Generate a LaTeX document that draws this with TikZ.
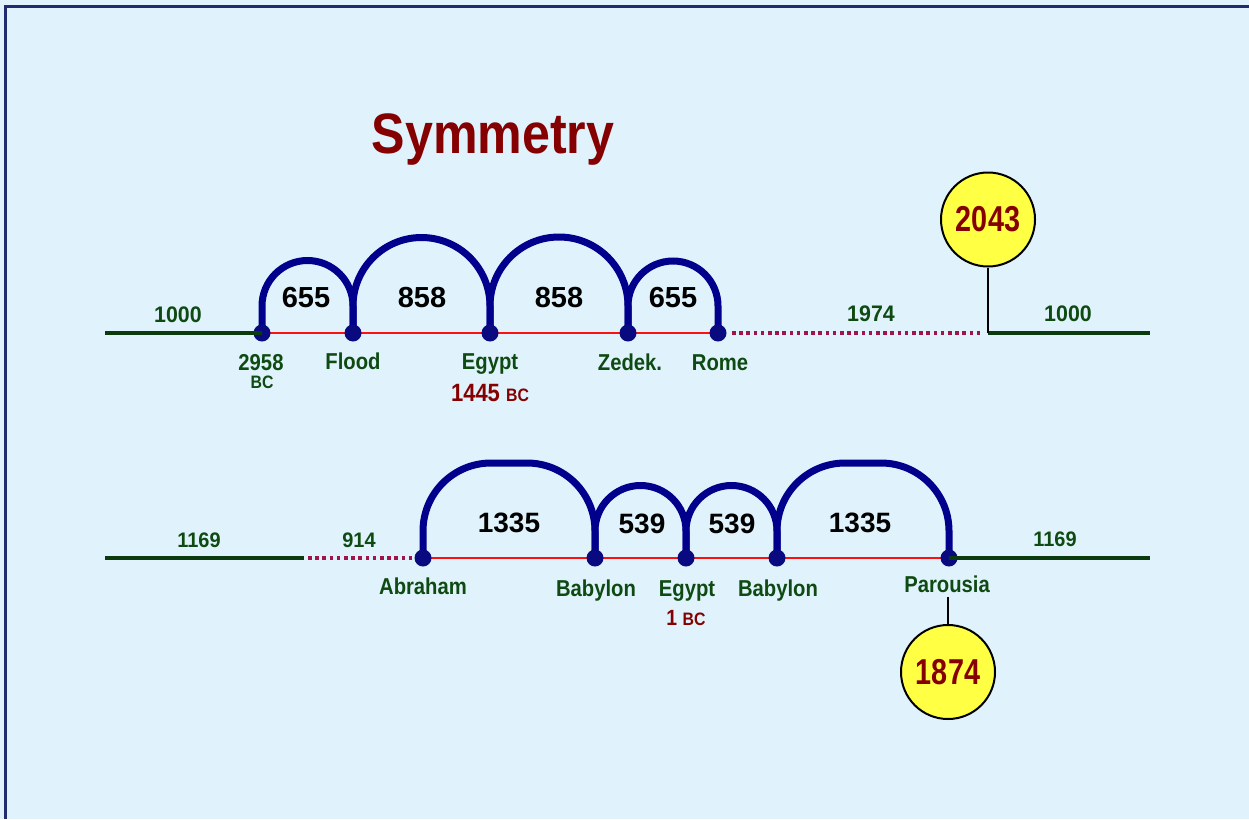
\documentclass[tikz,border=0pt]{standalone}
\usepackage{fontspec}
\setmainfont{Liberation Sans}[FakeStretch=0.88]
\newfontfamily\narrowfont{Liberation Sans}[FakeStretch=0.80]
\newfontfamily\fullfont{Liberation Sans}
\newfontfamily\midfont{Liberation Sans}[FakeStretch=0.95]
\definecolor{bgc}{HTML}{E0F3FC}
\definecolor{borderc}{HTML}{1F2D6E}
\definecolor{tgreen}{HTML}{0E4A12}
\definecolor{lgreen}{HTML}{0A3A0E}
\definecolor{navy}{HTML}{00008C}
\definecolor{dotnavy}{HTML}{0A0A80}
\definecolor{redl}{HTML}{FF1010}
\definecolor{dred}{HTML}{850000}
\definecolor{dotc}{HTML}{A0144A}
\definecolor{yel}{HTML}{FFFF44}
\begin{document}
\begin{tikzpicture}[x=1pt,y=1pt,
  lbl/.style={anchor=base,inner sep=0,font=\bfseries\fontsize{23}{26}\selectfont,text=tgreen},
  numlbl/.style={anchor=base,inner sep=0,font=\midfont\bfseries\fontsize{22.5}{26}\selectfont,text=tgreen},
  smalllbl/.style={anchor=base,inner sep=0,font=\midfont\bfseries\fontsize{21}{24}\selectfont,text=tgreen},
  arclbl/.style={anchor=base,inner sep=0,font=\fullfont\bfseries\fontsize{29}{34}\selectfont,text=black},
  arclblb/.style={anchor=base,inner sep=0,font=\fullfont\bfseries\fontsize{28}{32}\selectfont,text=black},
  datelbl/.style={anchor=base,inner sep=0,font=\bfseries\fontsize{25}{28}\selectfont,text=dred},
  titlestyle/.style={anchor=base,inner sep=0,font=\bfseries\fontsize{57}{64}\selectfont,text=dred},
  yearcircle/.style={circle,draw=black,line width=2,fill=yel,minimum size=94,inner sep=0,
     font=\narrowfont\bfseries\fontsize{36}{40}\selectfont,text=dred},
  dot/.style={circle,fill=dotnavy,minimum size=17,inner sep=0},
  arcline/.style={draw=navy,line width=7},
  redline/.style={draw=redl,line width=2},
  greenline/.style={draw=lgreen,line width=4},
  dotline/.style={draw=dotc,line width=4,dash pattern=on 3.5pt off 3.7pt},
  stem/.style={draw=black,line width=1.3}]
\useasboundingbox (0,0) rectangle (1249,-819);
\fill[bgc] (0,0) rectangle (1249,-819);
\draw[borderc,line width=3] (5,-819) -- (5,-6.5) -- (1249,-6.5);

\node[titlestyle] (title) at (493,-153) {Symmetry};

% ---------- top row ----------
\coordinate (t1) at (262,-333);
\coordinate (t2) at (353,-333);
\coordinate (t3) at (490,-333);
\coordinate (t4) at (628,-333);
\coordinate (t5) at (718,-333);
\coordinate (tl) at (105,-333);
\coordinate (tv) at (988,-333);
\coordinate (tr) at (1150,-333);

\draw[redline] (t1) -- (t5);
\draw[arcline] (t1) -- ++(0,27) arc[start angle=180,end angle=0,radius=45.5] -- (t2);
\draw[arcline] (t2) -- ++(0,27) arc[start angle=180,end angle=0,radius=68.5] -- (t3);
\draw[arcline] (t3) -- ++(0,27) arc[start angle=180,end angle=0,radius=69] -- (t4);
\draw[arcline] (t4) -- ++(0,27) arc[start angle=180,end angle=0,radius=45] -- (t5);

\node[dot] (n1) at (t1) {};
\node[dot] (n2) at (t2) {};
\node[dot] (n3) at (t3) {};
\node[dot] (n4) at (t4) {};
\node[dot] (n5) at (t5) {};

\draw[greenline] (tl) -- (n1.center);
\draw[dotline] ([xshift=14]n5.center) -- ([xshift=-6]tv);
\draw[greenline] (tv) -- (tr);

\node[yearcircle] (c2043) at (988,-219.5) {2043};
\draw[stem] (c2043.south) -- (tv);

\node[arclbl] (l655a) at (306,-307) {655};
\node[arclbl] (l858a) at (422,-307) {858};
\node[arclbl] (l858b) at (559,-307) {858};
\node[arclbl] (l655b) at (673,-307) {655};

\node[numlbl] (l1000a) at (178,-322) {1000};
\node[numlbl] (l1974) at (871,-321) {1974};
\node[numlbl] (l1000b) at (1068,-321) {1000};

\node[lbl] (l2958) at (261,-370) {2958};
\node[anchor=base,inner sep=0,font=\bfseries\fontsize{18}{20}\selectfont,text=tgreen] (lbc) at (262,-388) {BC};
\node[lbl] (lflood) at (353,-369) {Flood};
\node[lbl] (legypt) at (490,-369) {Egypt};
\node[datelbl] (l1445) at (490,-401) {1445 {\fontsize{18}{20}\selectfont BC}};
\node[lbl] (lzedek) at (630,-370) {Zedek.};
\node[lbl] (lrome) at (720,-370) {Rome};

% ---------- bottom row ----------
\coordinate (b1) at (423,-558);
\coordinate (b2) at (595,-558);
\coordinate (b3) at (686,-558);
\coordinate (b4) at (777,-558);
\coordinate (b5) at (949,-558);
\coordinate (bl) at (105,-558);
\coordinate (bm) at (304,-558);
\coordinate (br) at (1150,-558);

\draw[redline] (b1) -- (b5);
\draw[arcline] (b1) -- ++(0,27) arc[start angle=180,end angle=90,radius=68] -- ++(36,0)
   arc[start angle=90,end angle=0,radius=68] -- (b2);
\draw[arcline] (b2) -- ++(0,27) arc[start angle=180,end angle=0,radius=45.5] -- (b3);
\draw[arcline] (b3) -- ++(0,27) arc[start angle=180,end angle=0,radius=45.5] -- (b4);
\draw[arcline] (b4) -- ++(0,27) arc[start angle=180,end angle=90,radius=68] -- ++(36,0)
   arc[start angle=90,end angle=0,radius=68] -- (b5);

\node[dot] (m1) at (b1) {};
\node[dot] (m2) at (b2) {};
\node[dot] (m3) at (b3) {};
\node[dot] (m4) at (b4) {};
\node[dot] (m5) at (b5) {};

\draw[greenline] (bl) -- (bm);
\draw[dotline] ([xshift=4]bm) -- ([xshift=-11]m1.center);
\draw[greenline] (m5.center) -- (br);

\node[arclblb] (l1335a) at (509,-532) {1335};
\node[arclblb] (l539a) at (642,-533) {539};
\node[arclblb] (l539b) at (732,-533) {539};
\node[arclblb] (l1335b) at (860,-532) {1335};

\node[smalllbl] (l1169a) at (199,-547) {1169};
\node[smalllbl] (l914) at (359,-547) {914};
\node[smalllbl] (l1169b) at (1055,-546) {1169};

\node[lbl] (labr) at (423,-594) {Abraham};
\node[lbl] (lbab1) at (596,-596) {Babylon};
\node[lbl] (legypt2) at (687,-596) {Egypt};
\node[anchor=base,inner sep=0,font=\bfseries\fontsize{22}{25}\selectfont,text=dred] (l1bc) at (686,-625) {1 {\fontsize{18}{20}\selectfont BC}};
\node[lbl] (lbab2) at (778,-596) {Babylon};
\node[lbl] (lpar) at (947,-592) {Parousia};

\node[yearcircle] (c1874) at (948,-672) {1874};
\draw[stem] (c1874.north) -- ++(0,27);
\end{tikzpicture}
\end{document}
